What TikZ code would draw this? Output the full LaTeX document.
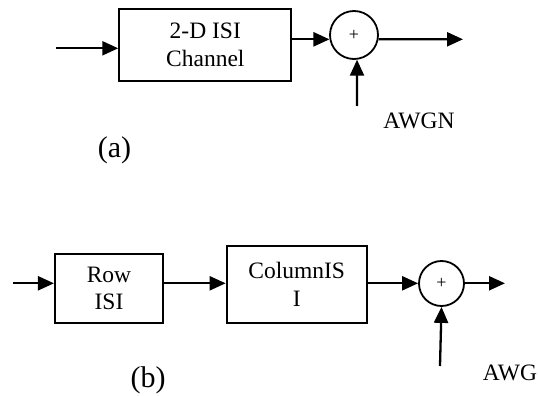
\documentclass[tikz,border=0pt]{standalone}
\usepackage{fontspec}
\setmainfont{Liberation Serif}
\usetikzlibrary{arrows.meta}
\begin{document}
\begin{tikzpicture}[x=1pt,y=-1pt,
  blockbox/.style={draw,line width=2.1pt,inner sep=0pt,align=center,
    font=\fontsize{23.5}{27.5}\selectfont},
  sumnode/.style={draw,circle,line width=1.8pt,inner sep=0pt,
    font=\fontsize{18}{20}\selectfont},
  sig/.style={line width=2.3pt,-{Triangle[length=16pt,width=14pt]}},
  lbl/.style={inner sep=0pt,font=\fontsize{23.5}{27.5}\selectfont},
  subcap/.style={inner sep=0pt,font=\fontsize{30}{34}\selectfont}]
\useasboundingbox (0,0) rectangle (539,396);
% (a)
\node[blockbox,minimum width=172pt,minimum height=71.4pt] (boxA) at (205.3,45) {2-D ISI\\Channel};
\node[sumnode,minimum size=48pt] (sumA) at (354,35) {+};
\coordinate (inA) at (56,48.3);
\coordinate (outA) at (463,39.3);
\coordinate (nA) at (357,106);
\draw[sig] (inA) -- (inA -| boxA.west);
\draw[sig] (boxA.east |- sumA.190) -- (sumA.190);
\draw[sig] (sumA.350) -- (outA);
\draw[sig] (nA) -- (sumA.277);
\node[lbl] (awgnA) at (419,121) {AWGN};
\node[subcap] (capA) at (114.5,150) {(a)};
% (b)
\node[blockbox,minimum width=108pt,minimum height=69pt] (rowB) at (109,288.5) {Row\\ISI};
\node[blockbox,minimum width=140pt,minimum height=77pt] (colB) at (296.7,284.5) {ColumnIS\\I};
\node[sumnode,minimum size=45pt] (sumB) at (441.5,283.5) {+};
\coordinate (inB) at (13,283.3);
\coordinate (outB) at (505,283.3);
\coordinate (nB) at (440,366);
\draw[sig] (inB) -- (inB -| rowB.west);
\draw[sig] (rowB.east |- inB) -- (colB.west |- inB);
\draw[sig] (colB.east |- inB) -- (sumB.west |- inB);
\draw[sig] (sumB.east |- inB) -- (outB);
\draw[sig] (nB) -- (sumB.south);
\node[lbl,anchor=base west] (awgB) at (482.7,380) {AWG};
\node[subcap] (capB) at (148,380) {(b)};
\end{tikzpicture}
\end{document}
